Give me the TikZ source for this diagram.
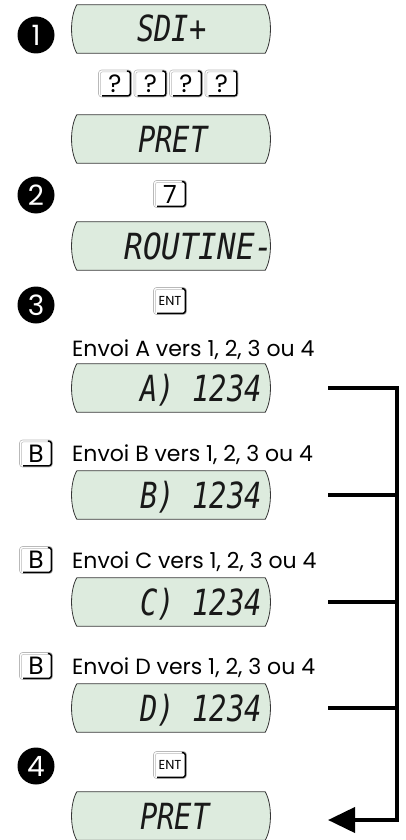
\documentclass[tikz,border=0pt]{standalone}
\usepackage{fontspec}
\setmainfont{Poppins}
\newfontfamily\lcdfont{DejaVu Sans Mono}
\usetikzlibrary{arrows.meta,calc}
\definecolor{lcdfill}{RGB}{221,235,222}
\definecolor{lcdedge}{RGB}{55,55,55}
\tikzset{
  lcdbox/.style={rectangle, minimum width=188pt, minimum height=48pt, inner sep=0pt},
  lcdframe/.style={fill=lcdfill, draw=lcdedge, line width=0.8pt},
  lcdtext/.style={font=\fontsize{36}{36}\lcdfont\itshape, inner sep=0pt, anchor=base, text=black!90},
  keycap/.style={draw=gray!55, line width=0.6pt, fill=white, rounded corners=3pt,
    minimum width=33pt, minimum height=27pt, inner sep=0pt, font=\fontsize{25}{25}\selectfont},
  stepnum/.style={circle, fill=black, text=white, minimum size=37pt, inner sep=0pt,
    font=\fontsize{28}{28}\selectfont},
  lbl/.style={anchor=base west, inner sep=0pt, font=\fontsize{22}{22}\selectfont},
  link/.style={line width=4pt},
}
\newcommand{\lcdpanel}[1]{%
  \draw[lcdframe] (#1.north west) -- (#1.north east)
    .. controls ($(#1.north east)+(7,12)$) and ($(#1.south east)+(7,-12)$) .. (#1.south east)
    -- (#1.south west)
    .. controls ($(#1.south west)+(-7,-12)$) and ($(#1.north west)+(-7,12)$) .. (#1.north west) -- cycle;}
\newcommand{\keyshade}[1]{%
  \draw[gray!55, line width=0.5pt, rounded corners=2pt]
    ([xshift=2.2pt,yshift=2.2pt]#1.south west) -- ([xshift=2.2pt,yshift=-2.2pt]#1.north west)
    -- ([xshift=-4pt,yshift=-2.2pt]#1.north east);
  \draw[black, line width=1.5pt, rounded corners=2.5pt]
    ([xshift=-5pt,yshift=-1.4pt]#1.north east) -- ([xshift=-1.4pt,yshift=-1.4pt]#1.north east)
    -- ([xshift=-1.4pt,yshift=1.4pt]#1.south east) -- ([xshift=4pt,yshift=1.4pt]#1.south west);}
\begin{document}
\begin{tikzpicture}[x=1pt,y=-1pt]
\useasboundingbox (0,0) rectangle (406,840);
% step numbers
\node[stepnum] (n1) at (36,35) {1};
\node[stepnum] (n2) at (36,195) {2};
\node[stepnum] (n3) at (36,305) {3};
\node[stepnum] (n4) at (36,766) {4};
% displays
\node[lcdbox] (d1) at (171,29) {}; \lcdpanel{d1}
\node[lcdtext, xscale=0.8] (t1) at (172,42) {SDI+};
\node[lcdbox] (d2) at (171,139) {}; \lcdpanel{d2}
\node[lcdtext, xscale=0.8] (t2) at (173,152) {PRET};
\node[lcdbox] (d3) at (171,246) {}; \lcdpanel{d3}
\node[lcdtext, xscale=0.86] (t3) at (199,259) {ROUTINE-};
\node[lcdbox] (dA) at (171,388) {}; \lcdpanel{dA}
\node[lcdtext, xscale=0.8] (tA) at (201,401) {A) 1234};
\node[lcdbox] (dB) at (171,495) {}; \lcdpanel{dB}
\node[lcdtext, xscale=0.8] (tB) at (201,508) {B) 1234};
\node[lcdbox] (dC) at (171,602) {}; \lcdpanel{dC}
\node[lcdtext, xscale=0.8] (tC) at (201,615) {C) 1234};
\node[lcdbox] (dD) at (171,708) {}; \lcdpanel{dD}
\node[lcdtext, xscale=0.8] (tD) at (201,721) {D) 1234};
\node[lcdbox] (dP) at (171,816) {}; \lcdpanel{dP}
\node[lcdtext, xscale=0.8] (tP) at (175,829) {PRET};
% keys
\node[keycap] (q1) at (115,83.5) {?}; \keyshade{q1}
\node[keycap] (q2) at (150.5,83.5) {?}; \keyshade{q2}
\node[keycap] (q3) at (186,83.5) {?}; \keyshade{q3}
\node[keycap] (q4) at (221.5,83.5) {?}; \keyshade{q4}
\node[keycap] (k7) at (170,194) {7}; \keyshade{k7}
\node[keycap, font=\fontsize{13}{13}\selectfont] (e1) at (170,301) {ENT}; \keyshade{e1}
\node[keycap] (b1) at (36,453.5) {B}; \keyshade{b1}
\node[keycap] (b2) at (36,560) {B}; \keyshade{b2}
\node[keycap] (b3) at (36,666) {B}; \keyshade{b3}
\node[keycap, font=\fontsize{13}{13}\selectfont] (e2) at (170,765) {ENT}; \keyshade{e2}
% labels
\node[lbl] (lA) at (72,356) {Envoi A vers 1, 2, 3 ou 4};
\node[lbl] (lB) at (72,461.5) {Envoi B vers 1, 2, 3 ou 4};
\node[lbl] (lC) at (72,568) {Envoi C vers 1, 2, 3 ou 4};
\node[lbl] (lD) at (72,674) {Envoi D vers 1, 2, 3 ou 4};
% connectors
\coordinate (jA) at ($(dA.east)+(63,0)$);
\coordinate (jB) at ($(dB.east)+(63,0)$);
\coordinate (jC) at ($(dC.east)+(63,0)$);
\coordinate (jD) at ($(dD.east)+(63,0)$);
\coordinate (jP) at (328,820);
\coordinate (top) at (397,388);
\coordinate (bot) at (397,820);
\draw[link, -{Triangle[length=27pt,width=25pt]}] (jA) -- (top) -- (bot) -- (jP);
\draw[link] (jB) -- (jB -| top);
\draw[link] (jC) -- (jC -| top);
\draw[link] (jD) -- (jD -| top);
\end{tikzpicture}
\end{document}
